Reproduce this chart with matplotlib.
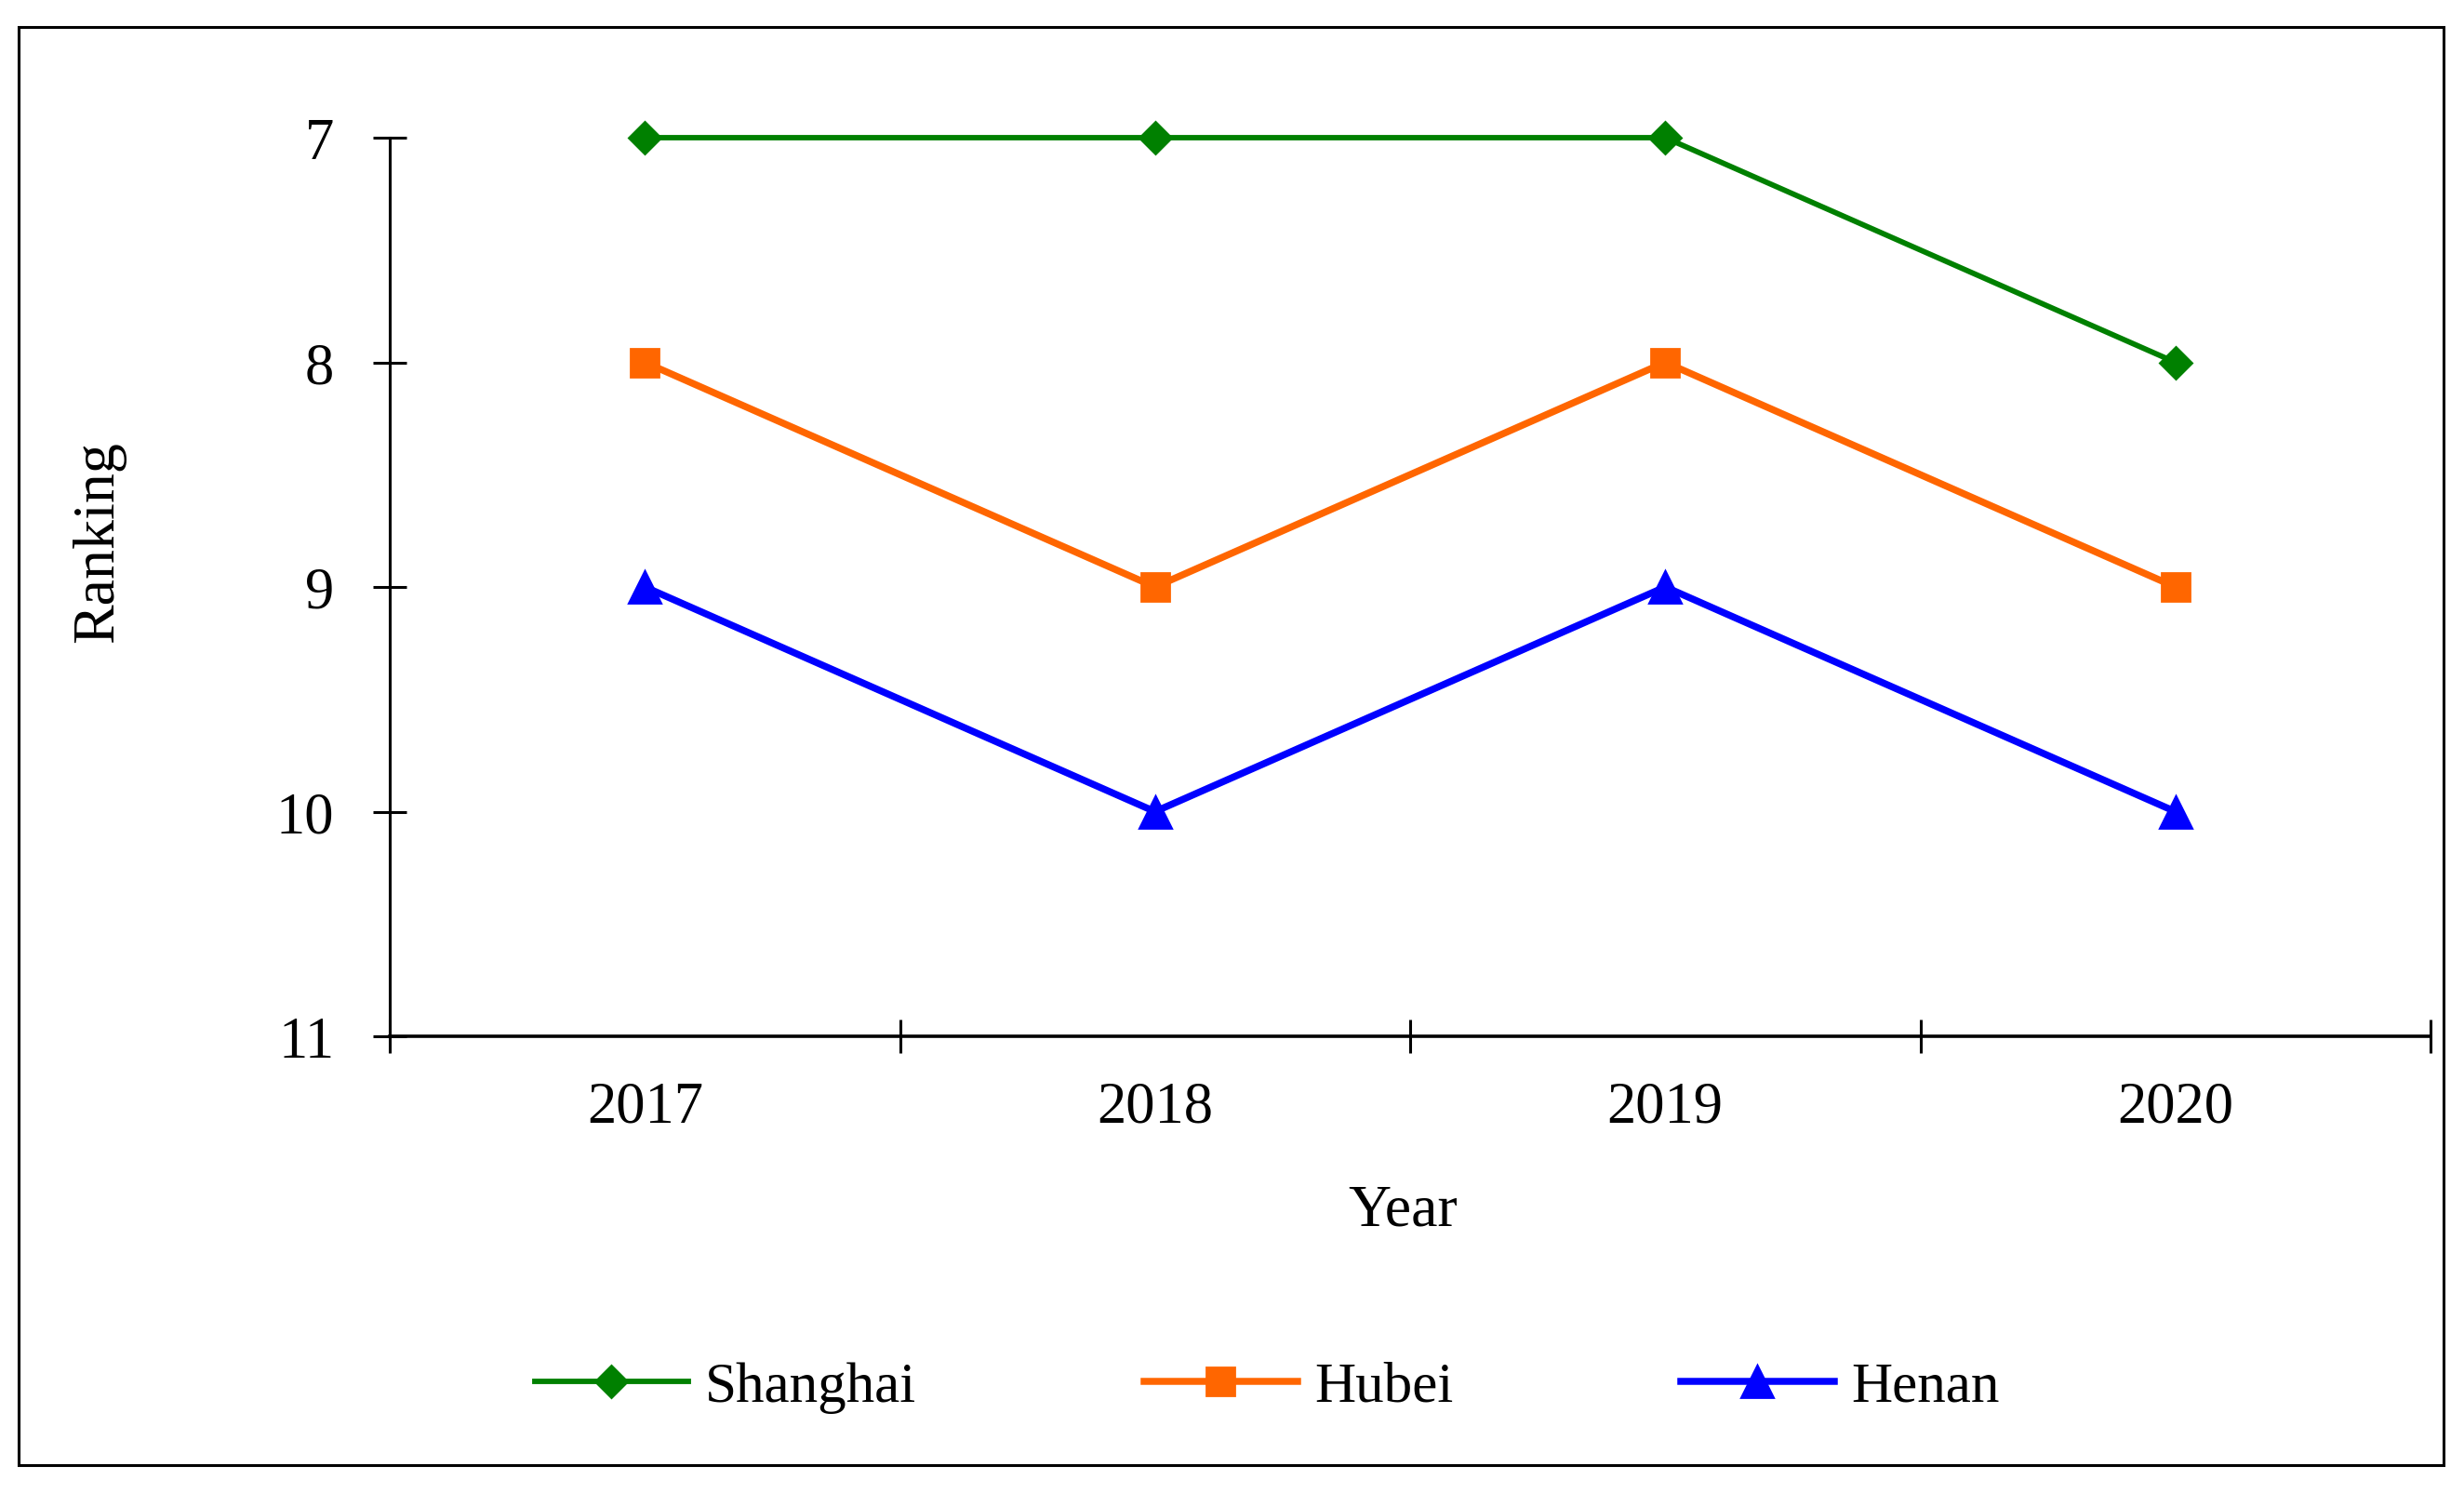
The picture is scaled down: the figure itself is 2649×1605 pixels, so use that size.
import numpy as np
import matplotlib
matplotlib.use("Agg")
import matplotlib.pyplot as plt
from matplotlib.patches import Rectangle

plt.rcParams['font.family'] = ['Liberation Serif', 'DejaVu Serif']

years = ['2017', '2018', '2019', '2020']
shanghai = [7, 7, 7, 8]
hubei = [8, 9, 8, 9]
henan = [9, 10, 9, 10]

W, H, dpi = 2649, 1606, 200
fig = plt.figure(figsize=(W / dpi, H / dpi), dpi=dpi)

# outer frame round the whole chart
fig.patches.append(Rectangle((20 / W, 1 - 1576 / H), (2627 - 20) / W, (1576 - 30) / H,
                             transform=fig.transFigure, fill=False, edgecolor='black',
                             linewidth=1.1))

ax = fig.add_axes([419 / W, 1 - 1115 / H, (2613 - 419) / W, (1115 - 149) / H])

x = np.arange(len(years)) + 0.5
ax.plot(x, shanghai, color='#008000', linewidth=2.1, marker='D', markersize=8.5,
        label='Shanghai', clip_on=False)
ax.plot(x, hubei, color='#FF6600', linewidth=2.7, marker='s', markersize=11,
        label='Hubei', clip_on=False)
ax.plot(x, henan, color='#0000FF', linewidth=2.7, marker='^', markersize=12,
        label='Henan', clip_on=False)

ax.set_xlim(0, len(years))
ax.set_ylim(11, 7)
ax.set_yticks([7, 8, 9, 10, 11])
ax.set_xticks(np.arange(len(years) + 1))
ax.set_xticklabels([])
ax.set_xticks(x, minor=True)
ax.set_xticklabels(years, minor=True)
ax.tick_params(axis='x', which='minor', length=0, pad=17, labelsize=22.5)
ax.tick_params(axis='x', which='major', direction='inout', length=13, width=1.1)
ax.tick_params(axis='y', direction='inout', length=13, width=1.1, pad=15, labelsize=22.5)

for s in ['top', 'right']:
    ax.spines[s].set_visible(False)
ax.spines['left'].set_linewidth(1.1)
ax.spines['bottom'].set_linewidth(1.3)

fig.text(1508 / W, 1 - 1303 / H, 'Year', ha='center', va='center', fontsize=23)
fig.text(106 / W, 1 - 583 / H, 'Ranking', ha='center', va='center', fontsize=23,
         rotation=90)

fig.legend(loc='center', bbox_to_anchor=(1362 / W, 1 - 1492 / H), ncol=3,
           frameon=False, fontsize=22, handlelength=2.7, handletextpad=0.3,
           columnspacing=4.0)

fig.savefig('out.png', dpi=dpi)
